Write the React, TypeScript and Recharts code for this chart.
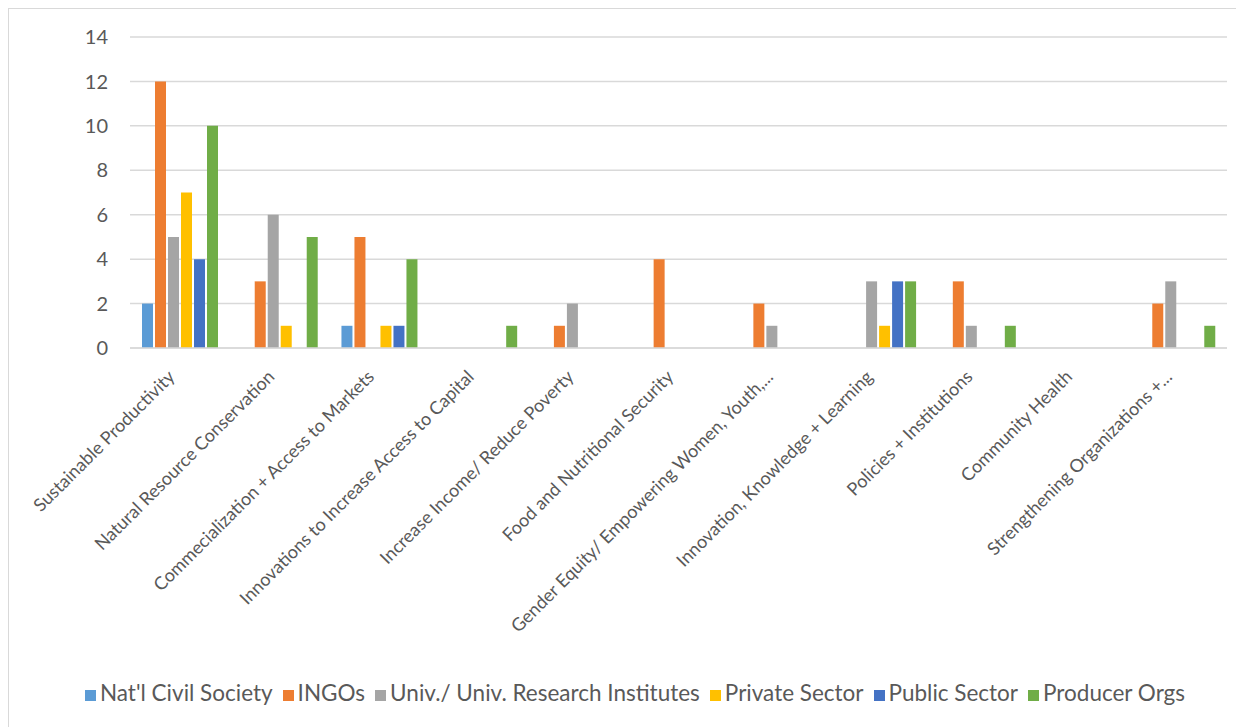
import React from 'react';
import { BarChart, Bar, XAxis, YAxis, CartesianGrid, Legend } from 'recharts';

const categories = [
  'Sustainable Productivity',
  'Natural Resource Conservation',
  'Commecialization + Access to Markets',
  'Innovations to Increase Access to Capital',
  'Increase Income/ Reduce Poverty',
  'Food and Nutritional Security',
  'Gender Equity/ Empowering Women, Youth,...',
  'Innovation, Knowledge + Learning',
  'Policies + Institutions',
  'Community Health',
  'Strengthening Organizations +...',
];

const natlCivilSociety = [2, 0, 1, 0, 0, 0, 0, 0, 0, 0, 0];
const ingos = [12, 3, 5, 0, 1, 4, 2, 0, 3, 0, 2];
const univ = [5, 6, 0, 0, 2, 0, 1, 3, 1, 0, 3];
const privateSector = [7, 1, 1, 0, 0, 0, 0, 1, 0, 0, 0];
const publicSector = [4, 0, 1, 0, 0, 0, 0, 3, 0, 0, 0];
const producerOrgs = [10, 5, 4, 1, 0, 0, 0, 3, 1, 0, 1];

const yTicks = [0, 2, 4, 6, 8, 10, 12, 14];

const series = [
  { key: 'natl', name: "Nat'l Civil Society", values: natlCivilSociety, color: '#5B9BD5' },
  { key: 'ingos', name: 'INGOs', values: ingos, color: '#ED7D31' },
  { key: 'univ', name: 'Univ./ Univ. Research Institutes', values: univ, color: '#A5A5A5' },
  { key: 'priv', name: 'Private Sector', values: privateSector, color: '#FFC000' },
  { key: 'pub', name: 'Public Sector', values: publicSector, color: '#4472C4' },
  { key: 'prod', name: 'Producer Orgs', values: producerOrgs, color: '#70AD47' },
];

const data = categories.map((c, i) => {
  const row: Record<string, string | number> = { category: c };
  series.forEach((s) => {
    row[s.key] = s.values[i];
  });
  return row;
});

const FONT = 'Lato, "Open Sans", sans-serif';

const XTick = (props: any) => {
  const { x, y, payload } = props;
  return (
    <g transform={`translate(${x - 4},${y + 22})`}>
      <text
        x={0}
        y={0}
        textAnchor="end"
        transform="rotate(-45)"
        fill="#595959"
        fontSize={18}
        fontFamily={FONT}
      >
        {payload.value}
      </text>
    </g>
  );
};

export default function App() {
  return (
    <div
      style={{
        width: 1250,
        height: 730,
        border: '2px solid #d9d9d9',
        marginLeft: -1,
        marginTop: -1,
        background: '#fff',
        overflow: 'hidden',
      }}
    >
      <BarChart
        width={1242}
        height={730}
        data={data}
        margin={{ top: 28, right: 24, left: 0, bottom: 33 }}
        barCategoryGap={11}
        barGap={2}
      >
        <CartesianGrid vertical={false} stroke="#d9d9d9" strokeWidth={1.5} />
        <XAxis
          dataKey="category"
          interval={0}
          height={331}
          axisLine={{ stroke: '#d9d9d9', strokeWidth: 1.5 }}
          tickLine={false}
          tick={<XTick />}
        />
        <YAxis
          width={121}
          domain={[0, 14]}
          ticks={yTicks}
          axisLine={false}
          tickLine={false}
          tickSize={0}
          tickMargin={22}
          tick={{ fill: '#595959', fontSize: 20, fontFamily: FONT }}
        />
        <Legend
          verticalAlign="bottom"
          align="center"
          iconType="square"
          iconSize={11}
          itemSorter={null}
          wrapperStyle={{ fontFamily: FONT, fontSize: 22.5, color: '#595959', left: 22 }}
          formatter={(v: string) => <span style={{ color: '#595959' }}>{v}</span>}
        />
        {series.map((s) => (
          <Bar
            key={s.key}
            dataKey={s.key}
            name={s.name}
            fill={s.color}
            barSize={11}
            isAnimationActive={false}
          />
        ))}
      </BarChart>
    </div>
  );
}
